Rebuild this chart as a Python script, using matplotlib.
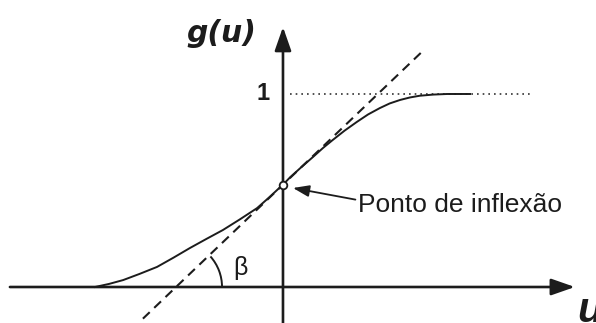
import numpy as np
import matplotlib.pyplot as plt
from matplotlib.patches import Arc

# sigmoid g(u), points
u_curve = [-4.00, -3.70, -3.40, -3.05, -2.68, -2.33, -1.98, -1.63, -1.28,
           -0.92, -0.55, -0.30, -0.11, 0.00, 0.15, 0.40, 0.64, 0.85, 1.06,
           1.31, 1.57, 1.81, 2.06, 2.27, 2.49, 2.70, 2.91, 3.20, 3.49, 3.98]
g_curve = [0.000, 0.016, 0.036, 0.068, 0.104, 0.152, 0.202, 0.249, 0.295,
           0.350, 0.409, 0.463, 0.506, 0.530, 0.568, 0.623, 0.674, 0.720,
           0.762, 0.810, 0.855, 0.894, 0.927, 0.951, 0.969, 0.982, 0.991,
           0.997, 1.000, 1.000]

# inflection point and the tangent through it
u_infl, g_infl = 0.0, 0.53
u_tan = [-2.98, 2.98]
g_tan = [-0.164, 1.224]

# horizontal asymptote
g_level = 1.0
u_level = [0.15, 5.32]

ink = "#1c1c1c"

fig = plt.figure(figsize=(5.96, 3.23), dpi=100)
ax = fig.add_axes([0, 0, 1, 1])
ax.set_xlim(-6.021, 6.660)
ax.set_ylim(-0.1865, 1.487)
ax.axis("off")

# axes with arrow heads
arrow = dict(arrowstyle="-|>,head_length=0.8,head_width=0.28",
             mutation_scale=18, lw=1.9, color=ink, shrinkA=0, shrinkB=0)
ax.annotate("", xy=(6.21, 0), xytext=(-5.81, 0), arrowprops=arrow)
ax.annotate("", xy=(0, 1.347), xytext=(0, -0.19), arrowprops=arrow)

# asymptote, tangent and curve
ax.plot(u_level, [g_level, g_level], color="#333333", lw=1.2,
        linestyle=(0, (1, 2.4)))
ax.plot(u_tan, g_tan, color=ink, lw=1.5, linestyle=(0, (4.5, 3)))
ax.plot(u_curve, g_curve, color=ink, lw=1.4)
ax.plot([u_infl], [g_infl], "o", ms=5.5, mfc="white", mec=ink, mew=1.3,
        zorder=5)

# angle beta between tangent and u axis (Arc angles are in data space)
slope = (g_tan[1] - g_tan[0]) / (u_tan[1] - u_tan[0])
u_cross = u_infl - g_infl / slope
beta = np.degrees(np.arctan(slope))
sx = ax.transData.transform((1, 0))[0] - ax.transData.transform((0, 0))[0]
sy = ax.transData.transform((0, 1))[1] - ax.transData.transform((0, 0))[1]
r = 46
ax.add_patch(Arc((u_cross, 0), 2 * r / sx, 2 * r / sy, theta1=0,
                 theta2=beta * 0.93, color=ink, lw=1.4))
ax.text(-1.064, 0.062, "β", fontsize=18, family="Liberation Sans",
        color=ink, ha="left", va="baseline")

# labels
ax.text(-1.32, 1.316, "g(u)", fontsize=21.5, family="DejaVu Sans",
        fontweight="bold", style="oblique", color=ink,
        ha="center", va="center")
ax.text(-0.277, g_level, "1", fontsize=17, family="Liberation Sans",
        fontweight="bold", color=ink, ha="right", va="center")
ax.text(6.27, -0.18, "u", fontsize=30, family="Liberation Sans",
        fontweight="bold", style="italic", color=ink,
        ha="left", va="baseline")

ax.annotate("Ponto de inflexão", xy=(0.213, 0.513), xytext=(1.60, 0.389),
            fontsize=19, family="Liberation Sans", color=ink,
            ha="left", va="baseline",
            arrowprops=dict(arrowstyle="-|>,head_length=0.7,head_width=0.25",
                            mutation_scale=14, lw=1.3, color=ink,
                            shrinkA=0, shrinkB=0,
                            relpos=(0, 0.7)))

fig.savefig("out.png", dpi=100)
